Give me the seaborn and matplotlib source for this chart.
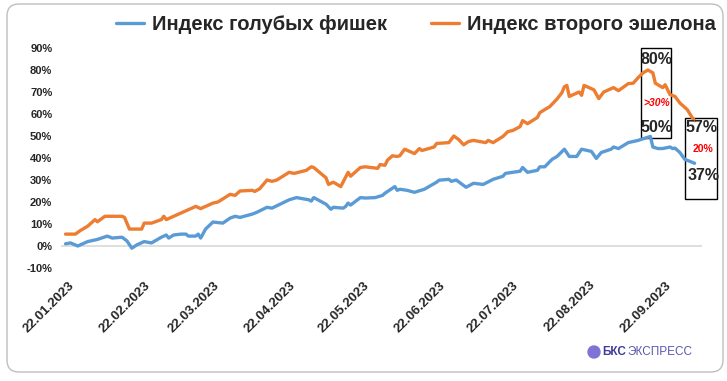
import pandas as pd
import matplotlib
matplotlib.use("Agg")
import matplotlib.pyplot as plt
import matplotlib.dates as mdates
from matplotlib.patches import FancyBboxPatch, Rectangle
from matplotlib.lines import Line2D
import seaborn as sns

# --- данные (в %) ---
blue_dates = ["2023-01-21", "2023-01-23", "2023-01-26", "2023-01-28", "2023-01-30", "2023-02-03",
              "2023-02-07", "2023-02-09", "2023-02-13", "2023-02-15", "2023-02-17", "2023-02-19",
              "2023-02-22", "2023-02-25", "2023-03-01", "2023-03-03", "2023-03-04", "2023-03-06",
              "2023-03-09", "2023-03-11", "2023-03-12", "2023-03-15", "2023-03-16", "2023-03-17",
              "2023-03-19", "2023-03-22", "2023-03-26", "2023-03-29", "2023-03-31", "2023-04-02",
              "2023-04-07", "2023-04-09", "2023-04-13", "2023-04-15", "2023-04-22", "2023-04-25",
              "2023-04-30", "2023-05-01", "2023-05-02", "2023-05-07", "2023-05-09", "2023-05-10",
              "2023-05-14", "2023-05-15", "2023-05-16", "2023-05-17", "2023-05-21", "2023-05-23",
              "2023-05-27", "2023-05-30", "2023-05-31", "2023-06-04", "2023-06-05", "2023-06-06",
              "2023-06-09", "2023-06-12", "2023-06-16", "2023-06-21", "2023-06-22", "2023-06-26",
              "2023-06-27", "2023-06-29", "2023-07-03", "2023-07-06", "2023-07-10", "2023-07-14",
              "2023-07-18", "2023-07-19", "2023-07-22", "2023-07-25", "2023-07-26", "2023-07-28",
              "2023-08-01", "2023-08-02", "2023-08-04", "2023-08-07", "2023-08-09", "2023-08-12",
              "2023-08-14", "2023-08-17", "2023-08-19", "2023-08-23", "2023-08-25", "2023-08-27",
              "2023-08-31", "2023-09-01", "2023-09-03", "2023-09-07", "2023-09-11", "2023-09-16",
              "2023-09-17", "2023-09-19", "2023-09-21", "2023-09-24", "2023-09-25", "2023-09-26",
              "2023-09-28", "2023-09-30", "2023-10-04"]
blue_vals = [1, 1.4, 0, 1, 2, 3,
             4.5, 3.6, 4, 2.3, -1, 0.5,
             2, 1.4, 4, 5, 3.6, 5,
             5.4, 5.4, 4.5, 4.5, 5.4, 3.6,
             7.7, 10.9, 10.4, 12.7, 13.5, 13,
             14.5, 15.4, 17.6, 17.2, 21, 22,
             21, 20.4, 22, 19, 16.7, 17.6,
             17.2, 18, 19.5, 18.6, 22, 21.8,
             22, 23, 24, 27, 25.3, 25.8,
             25.3, 24.4, 25.8, 29, 29.9, 30.3,
             29.4, 30, 26.7, 28.5, 28, 30.3,
             31.7, 33, 33.5, 34, 35.7, 33.5,
             34.4, 36, 36, 39.4, 40.7, 44,
             40.7, 40.7, 44, 43, 39.8, 42.5,
             44, 45, 44.3, 47, 48, 49.8,
             45, 44.3, 44.3, 45, 44.3, 44.5,
             42.5, 39.4, 37.6]

orange_dates = ["2023-01-21", "2023-01-25", "2023-01-27", "2023-01-30", "2023-02-02", "2023-02-03",
                "2023-02-06", "2023-02-13", "2023-02-14", "2023-02-16", "2023-02-21", "2023-02-22",
                "2023-02-25", "2023-03-01", "2023-03-02", "2023-03-03", "2023-03-09", "2023-03-11",
                "2023-03-15", "2023-03-17", "2023-03-22", "2023-03-24", "2023-03-29", "2023-03-31",
                "2023-04-02", "2023-04-07", "2023-04-08", "2023-04-10", "2023-04-13", "2023-04-15",
                "2023-04-17", "2023-04-22", "2023-04-24", "2023-04-29", "2023-05-01", "2023-05-02",
                "2023-05-07", "2023-05-08", "2023-05-10", "2023-05-13", "2023-05-16", "2023-05-17",
                "2023-05-21", "2023-05-23", "2023-05-28", "2023-05-29", "2023-05-31", "2023-06-01",
                "2023-06-03", "2023-06-05", "2023-06-06", "2023-06-08", "2023-06-12", "2023-06-14",
                "2023-06-15", "2023-06-20", "2023-06-21", "2023-06-26", "2023-06-28", "2023-06-30",
                "2023-07-02", "2023-07-04", "2023-07-06", "2023-07-11", "2023-07-12", "2023-07-14",
                "2023-07-18", "2023-07-20", "2023-07-22", "2023-07-25", "2023-07-26", "2023-07-28",
                "2023-08-01", "2023-08-02", "2023-08-04", "2023-08-06", "2023-08-09", "2023-08-11",
                "2023-08-12", "2023-08-13", "2023-08-14", "2023-08-16", "2023-08-18", "2023-08-19",
                "2023-08-20", "2023-08-24", "2023-08-26", "2023-08-28", "2023-09-01", "2023-09-03",
                "2023-09-07", "2023-09-09", "2023-09-11", "2023-09-13", "2023-09-15", "2023-09-17",
                "2023-09-18", "2023-09-21", "2023-09-22", "2023-09-24", "2023-09-26", "2023-09-28",
                "2023-10-01", "2023-10-03", "2023-10-04"]
orange_vals = [5.4, 5.4, 7, 9, 12, 11,
               13.5, 13.5, 13, 7.7, 7.7, 10.4,
               10.4, 12, 13.5, 12, 15, 16,
               18, 17, 19.5, 20, 23.5, 23,
               25, 25.3, 24.8, 26, 30, 29.4,
               30, 33.5, 33, 34.4, 36, 35.7,
               31, 28, 29, 27, 33.5, 31.7,
               35.7, 36, 35.3, 37, 36.7, 39,
               41, 40.7, 41, 44, 42, 44.3,
               43.4, 45, 46.6, 47, 50, 48.4,
               46, 47.5, 48, 47, 48, 47,
               49.8, 52, 52.5, 54.3, 57, 55.6,
               58.4, 60.6, 62, 63.3, 66.8, 69.7,
               72.4, 73, 68, 69, 70, 68.5,
               73, 71, 67, 70, 72, 70.6,
               73.8, 74, 76.5, 78.7, 80, 78.7,
               74, 72, 73.3, 68.8, 68, 65,
               62, 58.4, 57]

series_names = ["Индекс голубых фишек", "Индекс второго эшелона"]
colors = ["#5B9BD5", "#ED7D31"]
tick_dates = ["2023-01-22", "2023-02-22", "2023-03-22", "2023-04-22", "2023-05-22",
              "2023-06-22", "2023-07-22", "2023-08-22", "2023-09-22"]
y_ticks = [-10, 0, 10, 20, 30, 40, 50, 60, 70, 80, 90]

df = pd.concat([
    pd.DataFrame({"date": pd.to_datetime(blue_dates), "value": blue_vals, "series": series_names[0]}),
    pd.DataFrame({"date": pd.to_datetime(orange_dates), "value": orange_vals, "series": series_names[1]}),
])

sns.set_style("white")
plt.rcParams['font.family'] = ['Liberation Sans', 'DejaVu Sans']

W, H = 727, 381
fig = plt.figure(figsize=(W / 100, H / 100), dpi=100)
ax = fig.add_axes([60.6 / W, (H - 268) / H, (702 - 60.6) / W, 220 / H])

sns.lineplot(data=df, x="date", y="value", hue="series", palette=colors,
             linewidth=2.4, legend=False, ax=ax)

d0 = mdates.date2num(pd.Timestamp("2023-01-22"))
ax.set_xlim(d0 - 3, d0 + 258)
ax.set_ylim(-10, 90)
ax.axhline(0, color="#D9D9D9", lw=1.2, zorder=0)
for s in ax.spines.values():
    s.set_visible(False)

ax.set_xticks(mdates.date2num(pd.to_datetime(tick_dates)))
ax.set_xticklabels([pd.Timestamp(d).strftime("%d.%m.%Y") for d in tick_dates],
                   rotation=45, ha="right", rotation_mode="anchor",
                   fontsize=9.5, fontweight="bold")
ax.set_yticks(y_ticks)
ax.set_yticklabels([f"{v}%" for v in y_ticks], fontsize=8, fontweight="bold")
ax.tick_params(axis="x", length=0, pad=8)
ax.tick_params(axis="y", length=0, pad=6)
ax.set_xlabel("")
ax.set_ylabel("")

# рамки с подписями
ax.add_patch(Rectangle((d0 + 233.2, 49.3), 12.2, 40.7, fill=False, ec="black", lw=1, clip_on=False))
ax.add_patch(Rectangle((d0 + 251.1, 21.3), 13.0, 37.1, fill=False, ec="black", lw=1, clip_on=False))
ax.text(d0 + 239.5, 84.6, "80%", ha="center", va="center", fontsize=11.5, fontweight="bold", clip_on=False)
ax.text(d0 + 239.5, 65.2, ">30%", ha="center", va="center", fontsize=7.5, fontweight="bold",
        style="italic", color="#FF0000", clip_on=False)
ax.text(d0 + 239.5, 53.8, "50%", ha="center", va="center", fontsize=11.5, fontweight="bold", clip_on=False)
ax.text(d0 + 257.6, 53.8, "57%", ha="center", va="center", fontsize=11.5, fontweight="bold", clip_on=False)
ax.text(d0 + 258.4, 43.9, "20%", ha="center", va="center", fontsize=7.5, fontweight="bold",
        color="#FF0000", clip_on=False)
ax.text(d0 + 258.8, 32.1, "37%", ha="center", va="center", fontsize=11.5, fontweight="bold", clip_on=False)

handles = [Line2D([], [], color=c, lw=2.4) for c in colors]
fig.legend(handles, series_names, loc="center", bbox_to_anchor=(416 / W, 1 - 25 / H), ncol=2,
           frameon=False, handlelength=1.4, handletextpad=0.4, columnspacing=2.2,
           prop={"weight": "bold", "size": 14.5})

# рамка всего рисунка
fig.patches.append(FancyBboxPatch((7, H - 372), 716, 368, boxstyle="round,pad=0,rounding_size=12",
                                  transform=None, fill=False, ec="#BFBFBF", lw=1))

# логотип
fig.patches.append(plt.Circle((594, H - 352), 6, transform=None, color="#7E74D6"))
fig.text(602 / W, 1 - 352 / H, "БКС", fontsize=8.5, fontweight="bold", color="#3F3C96", va="center")
fig.text(627 / W, 1 - 352 / H, "ЭКСПРЕСС", fontsize=8.5, color="#5A56B0", va="center")

fig.savefig("out.png", dpi=100)
